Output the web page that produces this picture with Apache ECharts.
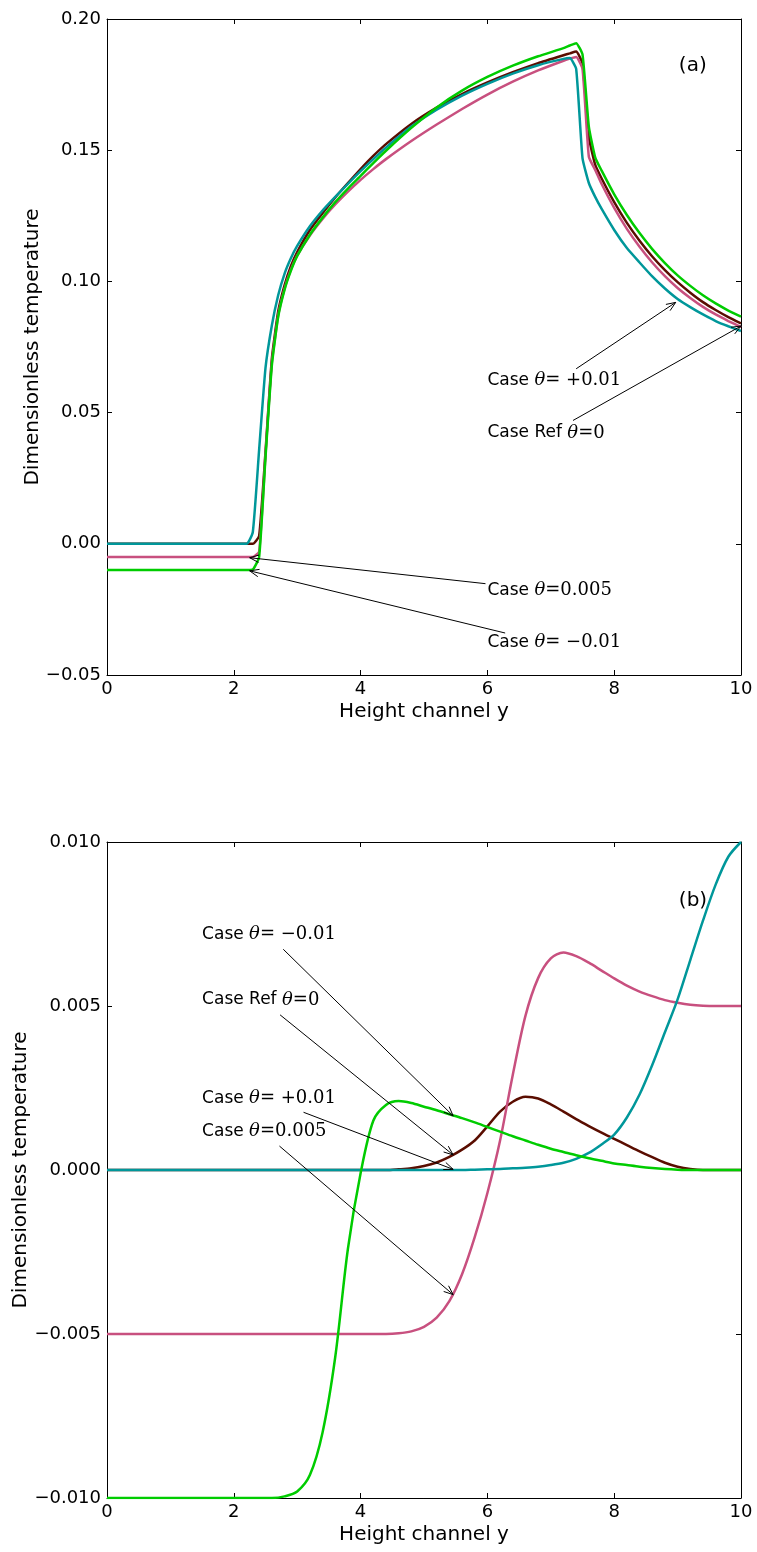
<!DOCTYPE html>
<html>
<head>
<meta charset="utf-8">
<script src="https://cdn.jsdelivr.net/npm/echarts@6/dist/echarts.min.js"></script>
<style>
html,body{margin:0;padding:0;background:#fff;}
#c{width:757px;height:1552px;}
</style>
</head>
<body>
<div id="c"></div>
<script>
// ---------- Panel (a) data ----------
const topX = [0, 2.2, 2.3, 2.4, 2.5, 2.6, 2.7, 2.8, 2.9, 3.0, 3.2, 3.4, 3.6, 3.8, 4.0, 4.2, 4.4, 4.8, 5.2, 5.6, 6.0, 6.4, 6.8, 7.2, 7.3, 7.4, 7.5, 7.6, 7.7, 7.8, 8.0, 8.2, 8.4, 8.6, 8.8, 9.0, 9.2, 9.4, 9.6, 9.8, 10];
const topRef   = [0, 0, 0, 0.003, 0.035, 0.0705, 0.0885, 0.0985, 0.1058, 0.1112, 0.1196, 0.1260, 0.1320, 0.1375, 0.1428, 0.1478, 0.1523, 0.1600, 0.1662, 0.1714, 0.1758, 0.1797, 0.1832, 0.1862, 0.1869, 0.1876, 0.1830, 0.1550, 0.1445, 0.1393, 0.1302, 0.1223, 0.1155, 0.1095, 0.1043, 0.0997, 0.0957, 0.0921, 0.0891, 0.0864, 0.0840];
const topPlus  = [0, 0, 0.0045, 0.036, 0.067, 0.0832, 0.0947, 0.1029, 0.1088, 0.1135, 0.1210, 0.1270, 0.1322, 0.1372, 0.1420, 0.1466, 0.1510, 0.1590, 0.1654, 0.1708, 0.1753, 0.1792, 0.1824, 0.1848, 0.1851, 0.181, 0.147, 0.1375, 0.1322, 0.1277, 0.1196, 0.1127, 0.1072, 0.1019, 0.0973, 0.0933, 0.0902, 0.0874, 0.0849, 0.0829, 0.0811];
const topHalf  = [-0.005, -0.005, -0.005, -0.003, 0.034, 0.069, 0.087, 0.0972, 0.1045, 0.1098, 0.1175, 0.1238, 0.1293, 0.1342, 0.1387, 0.1428, 0.1466, 0.1535, 0.1598, 0.1657, 0.1712, 0.1761, 0.1804, 0.1841, 0.1849, 0.1855, 0.181, 0.1475, 0.1425, 0.1372, 0.128, 0.12, 0.1132, 0.1072, 0.102, 0.0975, 0.0937, 0.0903, 0.0874, 0.0849, 0.0826];
const topMinus = [-0.01, -0.01, -0.0098, -0.005, 0.033, 0.068, 0.0865, 0.0968, 0.104, 0.1097, 0.1178, 0.1243, 0.1302, 0.1354, 0.1402, 0.1451, 0.1498, 0.1585, 0.1663, 0.1727, 0.1779, 0.1822, 0.1858, 0.1889, 0.1899, 0.1908, 0.1865, 0.159, 0.1473, 0.1423, 0.1332, 0.1253, 0.1184, 0.1123, 0.107, 0.1023, 0.0983, 0.0947, 0.0916, 0.0889, 0.0866];

// ---------- Panel (b) data ----------
const botX = [0, 2.4, 2.6, 2.8, 3.0, 3.2, 3.4, 3.6, 3.8, 4.0, 4.2, 4.4, 4.6, 4.8, 5.0, 5.2, 5.4, 5.6, 5.8, 6.0, 6.2, 6.4, 6.6, 6.8, 7.0, 7.2, 7.4, 7.6, 7.8, 8.0, 8.2, 8.4, 8.6, 8.8, 9.0, 9.2, 9.4, 9.6, 9.8, 10.0];
const botMinus = [-0.01, -0.01, -0.01, -0.00995, -0.0098, -0.0093, -0.0080, -0.0057, -0.0024, -0.0001, 0.0015, 0.00198, 0.0021, 0.00204, 0.00193, 0.00182, 0.0017, 0.00158, 0.00145, 0.00131, 0.00117, 0.00103, 0.0009, 0.00077, 0.00065, 0.00055, 0.00045, 0.00036, 0.00028, 0.0002, 0.00015, 0.0001, 0.00006, 0.00003, 0.00001, 0, 0, 0, 0, 0];
const botHalf  = [-0.005, -0.005, -0.005, -0.005, -0.005, -0.005, -0.005, -0.005, -0.005, -0.005, -0.005, -0.005, -0.00498, -0.00492, -0.00478, -0.0045, -0.004, -0.00318, -0.00205, -0.0007, 0.0009, 0.0029, 0.0047, 0.00585, 0.00645, 0.00663, 0.00652, 0.00632, 0.00608, 0.00584, 0.00562, 0.00544, 0.0053, 0.00518, 0.0051, 0.00504, 0.00501, 0.005, 0.005, 0.005];
const botRef   = [0, 0, 0, 0, 0, 0, 0, 0, 0, 0, 0, 0, 0.00002, 0.00005, 0.00012, 0.00023, 0.0004, 0.00062, 0.0009, 0.00133, 0.00178, 0.00208, 0.00223, 0.00218, 0.002, 0.00178, 0.00155, 0.00134, 0.00114, 0.00095, 0.00076, 0.00057, 0.00039, 0.00022, 0.0001, 0.00003, 0, 0, 0, 0];
const botPlus  = [0, 0, 0, 0, 0, 0, 0, 0, 0, 0, 0, 0, 0, 0, 0, 0, 0, 0, 0.00001, 0.00002, 0.00003, 0.00005, 0.00007, 0.0001, 0.00015, 0.00022, 0.00034, 0.00052, 0.00078, 0.00108, 0.0016, 0.0023, 0.0032, 0.0042, 0.0052, 0.0064, 0.0076, 0.0087, 0.00955, 0.01];

// ---------- Annotations (data coordinates) ----------
const topNotes = [
  {who: 'Case ', val: '= +0.01', text: [6, 0.06], tail: [7.40, 0.0667], head: [8.97, 0.092]},
  {who: 'Case Ref ', val: '=0', text: [6, 0.04], tail: [7.35, 0.047], head: [10.0, 0.083]},
  {who: 'Case ', val: '=0.005', text: [6, -0.02], tail: [5.97, -0.0152], head: [2.25, -0.0053]},
  {who: 'Case ', val: '= \u22120.01', text: [6, -0.04], tail: [6.28, -0.034], head: [2.25, -0.0103]}
];
const botNotes = [
  {who: 'Case ', val: '= \u22120.01', text: [1.5, 0.007], tail: [2.78, 0.00673], head: [5.46, 0.00165]},
  {who: 'Case Ref ', val: '=0', text: [1.5, 0.005], tail: [2.73, 0.00473], head: [5.46, 0.00046]},
  {who: 'Case ', val: '= +0.01', text: [1.5, 0.002], tail: [3.10, 0.00176], head: [5.46, 0.00002]},
  {who: 'Case ', val: '=0.005', text: [1.5, 0.001], tail: [2.72, 0.00073], head: [5.46, -0.0038]}
];

const C = {ref: '#5a0d00', plus: '#00979a', half: '#c8507f', minus: '#00cc00'};
const zip = (xs, ys) => xs.map((x, i) => [x, ys[i]]);

const tickFont = {fontFamily: 'DejaVu Sans', fontSize: 18, color: '#000'};
const nameFont = {fontFamily: 'DejaVu Sans', fontSize: 20, color: '#000'};

function fmt(d) {
  return v => {
    if (Math.abs(v) < 1e-12) return (0).toFixed(d);
    return (v < 0 ? '\u2212' : '') + Math.abs(v).toFixed(d);
  };
}

function xAx(gi, pos, withLabels) {
  return {
    type: 'value', gridIndex: gi, position: pos, min: 0, max: 10, interval: 2,
    axisLine: {show: true, onZero: false, lineStyle: {color: '#000', width: 1}},
    axisTick: {show: true, inside: true, length: 5, lineStyle: {color: '#000', width: 1}},
    axisLabel: withLabels ? Object.assign({show: true, margin: 5}, tickFont) : {show: false},
    splitLine: {show: false},
    name: withLabels ? 'Height channel y' : '', nameLocation: 'middle', nameGap: 27,
    nameMoveOverlap: false, nameTextStyle: nameFont
  };
}
function yAx(gi, pos, withLabels, min, max, interval, d, gap) {
  return {
    type: 'value', gridIndex: gi, position: pos, min: min, max: max, interval: interval,
    axisLine: {show: true, onZero: false, lineStyle: {color: '#000', width: 1}},
    axisTick: {show: true, inside: true, length: 5, lineStyle: {color: '#000', width: 1}},
    axisLabel: withLabels ? Object.assign({show: true, margin: 6, formatter: fmt(d)}, tickFont) : {show: false},
    splitLine: {show: false},
    name: withLabels ? 'Dimensionless temperature' : '', nameLocation: 'middle', nameGap: gap,
    nameMoveOverlap: false, nameRotate: 90, nameTextStyle: nameFont
  };
}
function ser(xi, xs, ys, color) {
  return {
    type: 'line', xAxisIndex: xi, yAxisIndex: xi, data: zip(xs, ys),
    showSymbol: false, symbol: 'none', smooth: xi === 0 ? 0.15 : 0.3,
    lineStyle: {width: 2.5, color: color}, itemStyle: {color: color},
    animation: false, silent: true
  };
}

const chart = echarts.init(document.getElementById('c'));
chart.setOption({
  animation: false,
  backgroundColor: '#fff',
  textStyle: {fontFamily: 'DejaVu Sans'},
  grid: [
    {left: 107, width: 634, top: 19, height: 656, containLabel: false, outerBoundsMode: 'none'},
    {left: 107, width: 634, top: 842, height: 656, containLabel: false, outerBoundsMode: 'none'}
  ],
  xAxis: [xAx(0, 'bottom', true), xAx(0, 'top', false), xAx(1, 'bottom', true), xAx(1, 'top', false)],
  yAxis: [
    yAx(0, 'left', true, -0.05, 0.2, 0.05, 2, 64),
    yAx(0, 'right', false, -0.05, 0.2, 0.05, 2, 0),
    yAx(1, 'left', true, -0.01, 0.01, 0.005, 3, 76),
    yAx(1, 'right', false, -0.01, 0.01, 0.005, 3, 0)
  ],
  series: [
    ser(0, topX, topRef, C.ref),
    ser(0, topX, topHalf, C.half),
    ser(0, topX, topPlus, C.plus),
    ser(0, topX, topMinus, C.minus),
    ser(2, botX, botRef, C.ref),
    ser(2, botX, botHalf, C.half),
    ser(2, botX, botPlus, C.plus),
    ser(2, botX, botMinus, C.minus)
  ]
});

// ---------- draw annotations ----------
const els = [];
function px(ai, p) { return chart.convertToPixel({xAxisIndex: ai, yAxisIndex: ai}, p); }
function addNotes(notes, ai) {
  notes.forEach(n => {
    const t = px(ai, n.text), a = px(ai, n.tail), h = px(ai, n.head);
    els.push({
      type: 'text', z: 100,
      style: {
        x: t[0], y: t[1] - 6, align: 'left', verticalAlign: 'middle',
        text: '{s|' + n.who + '}{m|\u03b8}{n|' + n.val + '}',
        rich: {
          s: {fontFamily: 'DejaVu Sans', fontSize: 17, fill: '#000'},
          m: {fontFamily: 'DejaVu Serif', fontStyle: 'italic', fontSize: 18, fill: '#000'},
          n: {fontFamily: 'DejaVu Serif', fontSize: 18, fill: '#000'}
        }
      }
    });
    els.push({type: 'line', z: 100, shape: {x1: a[0], y1: a[1], x2: h[0], y2: h[1]}, style: {stroke: '#000', lineWidth: 1}});
    const dx = h[0] - a[0], dy = h[1] - a[1], L = Math.hypot(dx, dy);
    const ux = dx / L, uy = dy / L, hl = 10, ang = 22 * Math.PI / 180;
    [ang, -ang].forEach(g => {
      const rx = ux * Math.cos(g) - uy * Math.sin(g), ry = ux * Math.sin(g) + uy * Math.cos(g);
      els.push({type: 'line', z: 100, shape: {x1: h[0], y1: h[1], x2: h[0] - rx * hl, y2: h[1] - ry * hl}, style: {stroke: '#000', lineWidth: 1}});
    });
  });
}
addNotes(topNotes, 0);
addNotes(botNotes, 2);
const pa = px(0, [9.02, 0.1822]), pb = px(2, [9.02, 0.0082]);
els.push({type: 'text', z: 100, style: {x: pa[0], y: pa[1], text: '(a)', align: 'left', verticalAlign: 'middle', fontFamily: 'DejaVu Sans', fontSize: 20, fill: '#000'}});
els.push({type: 'text', z: 100, style: {x: pb[0], y: pb[1], text: '(b)', align: 'left', verticalAlign: 'middle', fontFamily: 'DejaVu Sans', fontSize: 20, fill: '#000'}});
chart.setOption({graphic: els});
</script>
</body>
</html>
